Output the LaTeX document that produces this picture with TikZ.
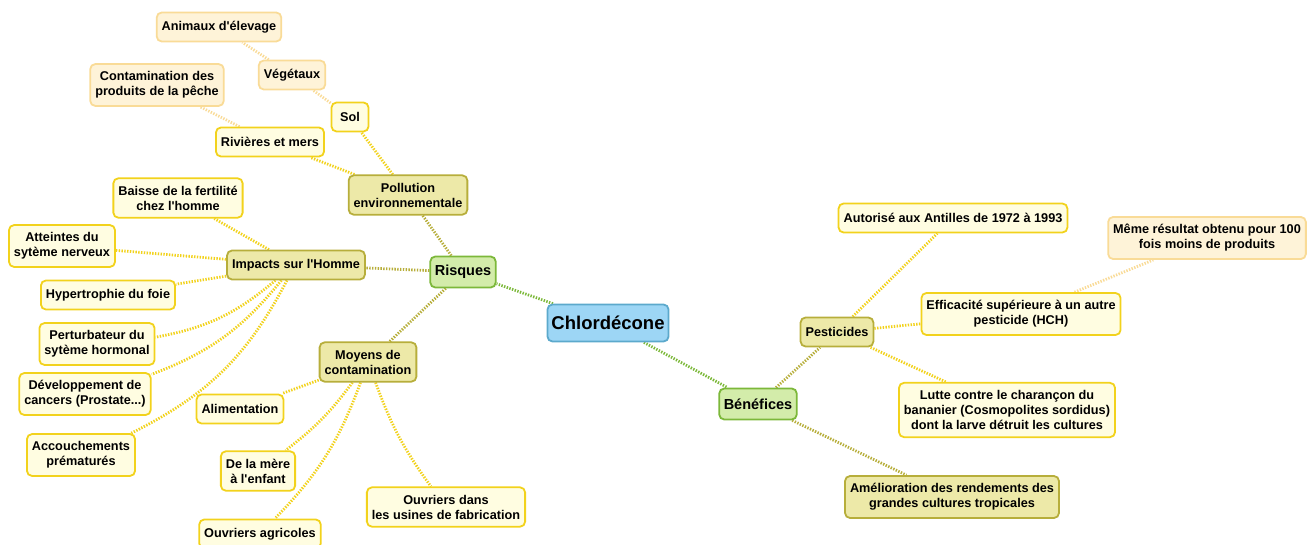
\documentclass[tikz,border=0pt]{standalone}
\usepackage{fontspec}
\setmainfont{Liberation Sans}
\usetikzlibrary{backgrounds}
\definecolor{rootfill}{HTML}{9DD6F5}
\definecolor{rootdraw}{HTML}{5CA9CC}
\definecolor{greenfill}{HTML}{D3ECAA}
\definecolor{greendraw}{HTML}{7CB83A}
\definecolor{olivefill}{HTML}{EDE9A8}
\definecolor{olivedraw}{HTML}{B7AE3B}
\definecolor{yelfill}{HTML}{FFFDE1}
\definecolor{yeldraw}{HTML}{F2D21C}
\definecolor{palefill}{HTML}{FEF3D8}
\definecolor{paledraw}{HTML}{F9DB97}
\newcommand\ap{\textquotesingle}
\tikzset{
  box/.style={rounded corners=5pt, line width=1.8pt, align=center,
    font=\bfseries\fontsize{12.7}{15}\selectfont,
    inner xsep=5pt, inner ysep=7.5pt, minimum height=29pt},
  root/.style={box, fill=rootfill, draw=rootdraw,
    font=\bfseries\fontsize{18.5}{22}\selectfont, inner xsep=4pt, minimum height=37pt},
  mainbranch/.style={box, fill=greenfill, draw=greendraw,
    font=\bfseries\fontsize{14.5}{17}\selectfont, inner xsep=4.5pt, minimum height=31pt},
  subbranch/.style={box, fill=olivefill, draw=olivedraw},
  leaf/.style={box, fill=yelfill, draw=yeldraw},
  subleaf/.style={box, fill=palefill, draw=paledraw},
  link/.style={line width=2.8pt, dash pattern=on 1.4pt off 1.4pt},
  lgreen/.style={link, draw=greendraw},
  lolive/.style={link, draw=olivedraw},
  lyel/.style={link, draw=yeldraw},
  lpale/.style={link, draw=paledraw},
}
\begin{document}
\begin{tikzpicture}[x=1pt, y=-1pt]
  \useasboundingbox (0,0) rectangle (1311,545);

  % centre and main branches
  \node[root] (chlor) at (608,323) {Chlordécone};
  \node[mainbranch] (risques) at (463,272) {Risques};
  \node[mainbranch] (benef) at (758,404) {Bénéfices};

  % risques side
  \node[subbranch] (pollu) at (408,195) {Pollution\\environnementale};
  \node[subbranch] (impacts) at (296,265) {Impacts sur l\ap Homme};
  \node[subbranch] (moyens) at (368,362) {Moyens de\\contamination};

  \node[leaf, minimum width=37pt] (sol) at (350,117) {Sol};
  \node[leaf] (rivieres) at (270,142) {Rivières et mers};
  \node[subleaf] (vegetaux) at (292,75) {Végétaux};
  \node[subleaf] (animaux) at (219,27) {Animaux d\ap élevage};
  \node[subleaf] (peche) at (157,85) {Contamination des\\produits de la pêche};

  \node[leaf] (fertil) at (178,198) {Baisse de la fertilité\\chez l\ap homme};
  \node[leaf] (nerveux) at (62,246) {Atteintes du\\sytème nerveux};
  \node[leaf] (foie) at (108,295) {Hypertrophie du foie};
  \node[leaf] (hormon) at (97,344) {Perturbateur du\\sytème hormonal};
  \node[leaf] (cancers) at (85,394) {Développement de\\cancers (Prostate...)};
  \node[leaf] (accouch) at (81,455) {Accouchements\\prématurés};

  \node[leaf] (alim) at (240,409) {Alimentation};
  \node[leaf] (mere) at (258,471) {De la mère\\à l\ap enfant};
  \node[leaf] (agri) at (260,534) {Ouvriers agricoles};
  \node[leaf] (usines) at (446,507) {Ouvriers dans\\les usines de fabrication};

  % benefices side
  \node[subbranch] (pestic) at (837,332) {Pesticides};
  \node[subbranch] (rendem) at (952,497) {Amélioration des rendements des\\grandes cultures tropicales};
  \node[leaf] (autor) at (953,218) {Autorisé aux Antilles de 1972 à 1993};
  \node[leaf] (effic) at (1021,314) {Efficacité supérieure à un autre\\pesticide (HCH)};
  \node[leaf] (lutte) at (1007,410) {Lutte contre le charançon du\\bananier (Cosmopolites sordidus)\\dont la larve détruit les cultures};
  \node[subleaf] (meme) at (1207,238) {Même résultat obtenu pour 100\\fois moins de produits};

  % connectors
  \begin{scope}[on background layer]
    \draw[lgreen] (chlor) -- (risques);
    \draw[lgreen] (chlor) -- (benef);
    \foreach \n in {pollu, impacts, moyens}
      \draw[lolive] (risques) -- (\n);
    \foreach \n in {pestic, rendem}
      \draw[lolive] (benef) -- (\n);
    \foreach \n in {sol, rivieres}
      \draw[lyel] (pollu) -- (\n);
    \draw[lpale] (sol) -- (vegetaux);
    \draw[lpale] (vegetaux) -- (animaux);
    \draw[lpale] (rivieres) -- (peche);
    \draw[lyel] (impacts) -- (fertil);
    \draw[lyel] (impacts) -- (nerveux);
    \draw[lyel] (impacts) -- (foie);
    \draw[lyel] (impacts) to[bend left=15] (hormon);
    \draw[lyel] (impacts) to[bend left=15] (cancers);
    \draw[lyel] (impacts) to[bend left=18] (accouch);
    \draw[lyel] (moyens) -- (alim);
    \draw[lyel] (moyens) to[bend left=8] (mere);
    \draw[lyel] (moyens) to[bend left=12] (agri);
    \draw[lyel] (moyens) to[bend right=8] (usines);
    \foreach \n in {autor, effic, lutte}
      \draw[lyel] (pestic) -- (\n);
    \draw[lpale] (effic) -- (meme);
  \end{scope}
\end{tikzpicture}
\end{document}
